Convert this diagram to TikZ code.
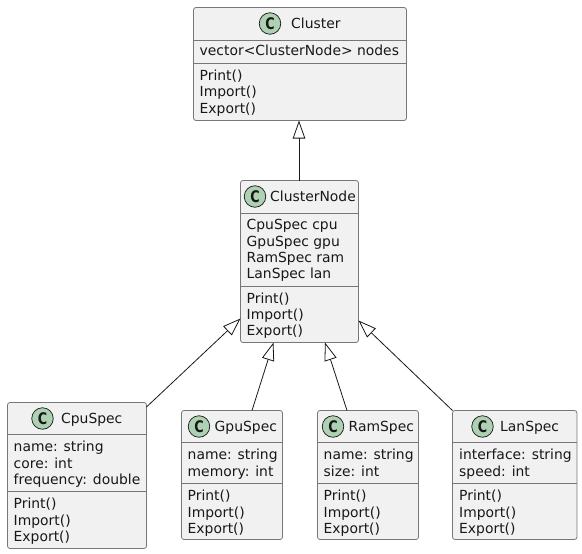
\documentclass[tikz,border=0pt]{standalone}
\usepackage{fontspec}
\setmainfont{DejaVu Sans}
\usetikzlibrary{arrows.meta}
\definecolor{boxfill}{HTML}{F1F1F1}
\definecolor{boxline}{HTML}{777777}
\definecolor{ink}{HTML}{181818}
\definecolor{spot}{HTML}{ADD1B2}
\newfontfamily\spotfont[FakeStretch=.8]{DejaVu Sans Bold}
\tikzset{
  x=1pt,y=-1pt,
  classbox/.style={draw=boxline,fill=boxfill,line width=.8pt,rounded corners=2.5pt,anchor=north west,inner sep=0pt,outer sep=0pt},
  sepline/.style={draw=boxline,line width=.8pt},
  spotmark/.style={circle,draw=ink,fill=spot,line width=.7pt,minimum size=21.5pt,inner sep=0pt,font=\spotfont\fontsize{16}{16}\selectfont,text=ink},
  title/.style={anchor=base west,inner sep=0pt,font=\fontsize{13.9}{14}\selectfont,text=ink},
  member/.style={anchor=base west,inner sep=0pt,font=\fontsize{13.9}{14}\selectfont,text=ink},
  inherit/.style={draw=ink,line width=.8pt,-{Triangle[open,fill=white,length=18pt,width=12.5pt]}},
}
\newcommand{\classbox}[7]{% name,x,y,w,h,sep1,sep2
  \node[classbox,minimum width=#4pt,minimum height=#5pt] (#1) at (#2,#3) {};
  \draw[sepline] (#2,#6) -- ({#2+#4},#6);
  \draw[sepline] (#2,#7) -- ({#2+#4},#7);
}
\begin{document}
\begin{tikzpicture}
\useasboundingbox (0,0) rectangle (582,554);
% Cluster
\classbox{cluster}{193.5}{7.5}{213}{113}{40}{63.5}
\node[spotmark] (s1) at (270,23.5) {C};
\node[title] (t1) at (291,28) {Cluster};
\node[member] (m1a) at (199.5,56) {vector<ClusterNode> nodes};
\node[member] (m1b) at (199.5,80) {Print()};
\node[member] (m1c) at (199.5,96.5) {Import()};
\node[member] (m1d) at (199.5,113) {Export()};
% ClusterNode
\classbox{cnode}{240.5}{180.5}{118}{162}{213}{286}
\node[spotmark] (s2) at (255,196.5) {C};
\node[title] (t2) at (270,201) {ClusterNode};
\node[member] (m2a) at (246.5,229) {CpuSpec cpu};
\node[member] (m2b) at (246.5,246) {GpuSpec gpu};
\node[member] (m2c) at (246.5,262) {RamSpec ram};
\node[member] (m2d) at (246.5,278.5) {LanSpec lan};
\node[member] (m2e) at (246.5,303) {Print()};
\node[member] (m2f) at (246.5,319.5) {Import()};
\node[member] (m2g) at (246.5,335.5) {Export()};
% CpuSpec
\classbox{cpu}{7.5}{402.5}{139}{146}{434.5}{491}
\node[spotmark] (s3) at (42.5,418.5) {C};
\node[title] (t3) at (61,423) {CpuSpec};
\node[member] (m3a) at (13.5,451) {name: string};
\node[member] (m3b) at (13.5,468) {core: int};
\node[member] (m3c) at (13.5,484) {frequency: double};
\node[member] (m3d) at (13.5,508) {Print()};
\node[member] (m3e) at (13.5,525) {Import()};
\node[member] (m3f) at (13.5,541) {Export()};
% GpuSpec
\classbox{gpu}{181.5}{410.5}{101}{129}{442.5}{483.5}
\node[spotmark] (s4) at (199,426.5) {C};
\node[title] (t4) at (214.5,431) {GpuSpec};
\node[member] (m4a) at (187.5,459) {name: string};
\node[member] (m4b) at (187.5,476) {memory: int};
\node[member] (m4c) at (187.5,500.5) {Print()};
\node[member] (m4d) at (187.5,517) {Import()};
\node[member] (m4e) at (187.5,533.5) {Export()};
% RamSpec
\classbox{ram}{317.5}{410.5}{101}{129}{442.5}{483.5}
\node[spotmark] (s5) at (333,426.5) {C};
\node[title] (t5) at (348.5,431) {RamSpec};
\node[member] (m5a) at (323.5,459) {name: string};
\node[member] (m5b) at (323.5,476) {size: int};
\node[member] (m5c) at (323.5,500.5) {Print()};
\node[member] (m5d) at (323.5,517) {Import()};
\node[member] (m5e) at (323.5,533.5) {Export()};
% LanSpec
\classbox{lan}{452.5}{410.5}{124.5}{129}{442.5}{483.5}
\node[spotmark] (s6) at (482.5,426.5) {C};
\node[title] (t6) at (500,431) {LanSpec};
\node[member] (m6a) at (459,459) {interface: string};
\node[member] (m6b) at (459,476) {speed: int};
\node[member] (m6c) at (459,500.5) {Print()};
\node[member] (m6d) at (459,517) {Import()};
\node[member] (m6e) at (459,533.5) {Export()};
% connectors
\draw[inherit] ([xshift=58.5pt]cnode.north west) -- ([xshift=105.5pt]cluster.south west);
\draw[inherit] ([yshift=-4.5pt]cpu.north east) -- ([yshift=24pt]cnode.south west);
\draw[inherit] ([xshift=70.5pt]gpu.north west) -- ([xshift=33pt]cnode.south west);
\draw[inherit] ([xshift=29.5pt]ram.north west) -- ([xshift=84.5pt]cnode.south west);
\draw[inherit] (lan.north west) -- ([yshift=22pt]cnode.south east);
\end{tikzpicture}
\end{document}
